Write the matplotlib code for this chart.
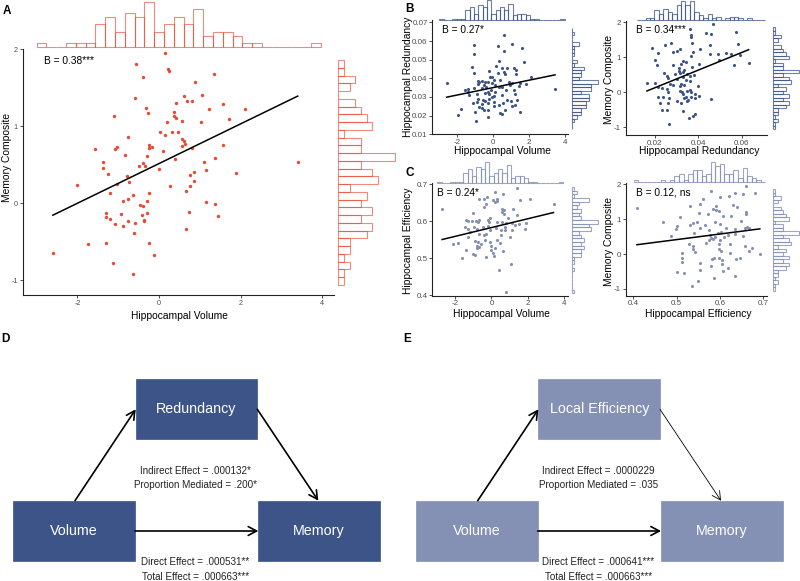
import matplotlib
matplotlib.use('Agg')
import matplotlib.pyplot as plt
import numpy as np
from matplotlib.patches import Rectangle
from matplotlib.ticker import FormatStrFormatter

plt.rcParams['font.family'] = ['Liberation Sans', 'DejaVu Sans']
plt.rcParams['axes.unicode_minus'] = False

# ---------------- data ----------------
a_volume = [0.155, -0.57, 0.21, 0.245, 1.34, -0.39, 0.89, 0.61, -0.59, 0.69,
            0.82, 0.42, 1.06, 1.56, -0.32, 1.23, 2.11, -0.28, 0.37, -1.09,
            0.36, 0.42, 1.71, 1.04, 0.57, 0.19, 0.03, 0.33, 0.46, 0.16,
            -0.76, 0.57, 0.62, 0.65, -0.24, 1.56, 0.56, -0.16, -0.24, 0.81,
            -1.57, -1.02, -1.07, 0.11, -0.84, -0.29, -1.36, 1.38, 0.40, -0.40,
            -0.35, 1.10, -0.50, -1.36, 0.01, 1.16, 1.88, -1.26, 0.87, 0.76,
            -0.78, -0.74, -1.03, -2.02, 0.27, 0.77, 0.87, 0.66, -0.24, -1.19,
            -0.64, -0.77, -0.87, -0.29, 1.16, -0.47, -0.38, 1.38, -1.30, 0.73,
            -0.30, -0.93, -0.41, 1.44, -1.30, -1.21, -0.37, -0.76, -0.36, -1.08,
            -0.59, -0.87, 0.67, -0.60, 3.40, -2.60, -1.75, -1.31, -0.24, -0.13,
            -1.12, -0.64]
a_memory = [1.95, 1.81, 1.745, 1.72, 1.68, 1.64, 1.57, 1.39, 1.37, 1.33,
            1.33, 1.30, 1.41, 1.29, 1.24, 1.22, 1.22, 1.17, 1.18, 1.13,
            1.13, 1.11, 1.09, 1.06, 1.07, 1.05, 0.92, 0.92, 0.92, 0.89,
            0.86, 0.83, 0.81, 0.77, 0.75, 0.75, 0.74, 0.73, 0.72, 0.72,
            0.71, 0.73, 0.70, 0.68, 0.63, 0.61, 0.54, 0.59, 0.58, 0.52,
            0.49, 0.53, 0.48, 0.46, 0.44, 0.43, 0.39, 0.38, 0.41, 0.37,
            0.35, 0.27, 0.25, 0.24, 0.23, 0.22, 0.29, 0.16, 0.14, 0.13,
            0.11, 0.06, 0.03, 0.03, 0.02, -0.02, -0.03, -0.01, -0.13, -0.11,
            -0.12, -0.14, -0.15, -0.16, -0.18, -0.20, -0.22, -0.23, -0.23, -0.27,
            -0.26, -0.29, -0.33, -0.39, 0.54, -0.64, -0.53, -0.52, -0.52, -0.67,
            -0.77, -0.92]

bl_volume = [0.60, -1.09, 0.24, 1.06, 0.60, 1.58, -1.06, 0.34, 1.71, -1.17,
             0.17, 0.48, 0.78, 1.15, 1.27, -0.25, 0.24, -1.06, 0.65, -0.19,
             2.12, -0.88, -0.61, 0.06, 0.36, -2.60, -0.31, -0.09, -0.84, -0.54,
             0.11, 0.86, 1.02, 1.47, 1.45, 0.95, 0.50, 0.30, -0.38, -0.64,
             -1.09, 1.80, -1.41, -1.58, -0.15, 1.13, -0.29, 0.09, -0.44, 3.44,
             0.72, -1.35, -0.89, -0.22, 0.46, 1.19, 0.04, -0.84, -0.22, -0.57,
             -0.44, 0.06, 0.76, -0.89, -0.61, 0.52, 1.30, -1.14, -0.28, 0.30,
             1.04, 0.04, -0.78, -0.65, 1.19, -1.82, -0.54, -0.31, 0.67, -1.02,
             0.39, 0.50, 1.49, -1.99, -0.29, -0.98, 1.00, -0.09, -0.46, -0.78,
             -1.41, -0.09, 0.61, 1.24]
bl_redundancy = [0.0632, 0.0580, 0.0575, 0.0584, 0.0546, 0.0561, 0.0529, 0.0493, 0.0486, 0.0459,
                 0.0468, 0.0455, 0.0454, 0.0455, 0.0445, 0.0439, 0.0427, 0.0429, 0.0423, 0.0409,
                 0.0409, 0.0387, 0.0387, 0.0391, 0.0391, 0.0375, 0.0379, 0.0375, 0.0370, 0.0366,
                 0.0366, 0.0379, 0.0375, 0.0375, 0.0361, 0.0366, 0.0355, 0.0352, 0.0353, 0.0350,
                 0.0350, 0.0371, 0.0343, 0.0336, 0.0337, 0.0337, 0.0327, 0.0325, 0.0320, 0.0341,
                 0.0336, 0.0311, 0.0313, 0.0313, 0.0311, 0.0313, 0.0305, 0.0288, 0.0288, 0.0284,
                 0.0279, 0.0275, 0.0282, 0.0270, 0.0264, 0.0268, 0.0284, 0.0268, 0.0266, 0.0255,
                 0.0252, 0.0252, 0.0248, 0.0241, 0.0255, 0.0236, 0.0230, 0.0229, 0.0230, 0.0220,
                 0.0213, 0.0209, 0.0220, 0.0202, 0.0191, 0.0170, 0.0277, 0.0405, 0.0379, 0.0382,
                 0.0327, 0.0302, 0.0432, 0.0423]

br_redundancy = [0.0466, 0.0363, 0.0435, 0.0460, 0.0575, 0.0365, 0.0366, 0.0583, 0.0275, 0.0248,
                 0.0369, 0.0454, 0.0186, 0.0317, 0.0303, 0.0282, 0.0408, 0.0212, 0.0374, 0.0452,
                 0.0491, 0.0528, 0.0552, 0.0594, 0.0366, 0.0632, 0.0202, 0.0328, 0.0345, 0.0494,
                 0.0208, 0.0282, 0.0322, 0.0403, 0.0563, 0.0309, 0.0371, 0.0335, 0.0243, 0.0312,
                 0.0317, 0.0328, 0.0294, 0.0348, 0.0362, 0.0382, 0.0331, 0.0302, 0.0258, 0.0342,
                 0.0363, 0.0163, 0.0198, 0.0271, 0.0322, 0.0212, 0.0234, 0.0254, 0.0283, 0.0317,
                 0.0334, 0.0397, 0.0258, 0.0315, 0.0325, 0.0348, 0.0360, 0.0366, 0.0383, 0.0329,
                 0.0212, 0.0235, 0.0345, 0.0366, 0.0383, 0.0263, 0.0332, 0.0460, 0.0300, 0.0346,
                 0.0225, 0.0260, 0.0352, 0.0322, 0.0231, 0.0254, 0.0328, 0.0383, 0.0375, 0.0355,
                 0.0265, 0.0254, 0.0402]
br_memory = [1.95, 1.81, 1.71, 1.68, 1.73, 1.65, 1.57, 1.38, 1.41, 1.35,
             1.40, 1.35, 1.26, 1.23, 1.18, 1.16, 1.23, 1.13, 1.16, 1.11,
             1.11, 1.13, 1.10, 1.06, 1.05, 0.85, 0.93, 0.90, 0.87, 0.92,
             0.77, 0.77, 0.81, 0.80, 0.78, 0.70, 0.73, 0.64, 0.56, 0.60,
             0.56, 0.58, 0.52, 0.53, 0.47, 0.50, 0.43, 0.39, 0.40, 0.35,
             0.33, 0.28, 0.26, 0.23, 0.24, 0.14, 0.12, 0.10, 0.20, 0.19,
             0.20, 0.18, 0.01, 0.05, 0.02, 0.05, 0.07, 0.00, -0.05, -0.06,
             -0.13, -0.14, -0.12, -0.12, -0.15, -0.17, -0.17, -0.19, -0.26, -0.26,
             -0.30, -0.30, -0.22, -0.31, -0.50, -0.50, -0.52, -0.63, -0.67, -0.72,
             -0.90, 0.47, -0.10]

cl_volume = [1.39, -2.74, 0.17, 0.63, -0.24, -0.39, 0.28, 0.11, 0.33, 0.17,
             -0.72, 1.59, 2.15, 3.44, -0.33, -0.41, 0.57, 0.69, 0.61, 1.17,
             -1.00, -1.41, -1.33, -1.07, -0.87, -0.67, -0.76, -0.22, -0.13, -0.06,
             0.70, 0.94, 1.39, 0.33, 0.56, 0.81, 1.15, 1.52, 1.30, 1.91,
             -1.48, -1.30, -0.96, -0.81, -0.46, -0.22, 0.24, 0.52, 0.76, -0.06,
             1.13, 1.85, -1.20, -0.69, -0.43, -0.28, 0.52, 1.00, -1.30, -0.89,
             -0.74, -1.85, -2.11, -0.35, -0.07, 0.28, 0.48, -0.59, -0.81, -0.70,
             0.00, 0.17, -1.39, 0.65, -1.00, 0.07, -0.93, -0.31, 0.15, -1.65,
             -0.04, 1.07, 0.41, 0.80, -0.78, 0.74]
cl_efficiency = [0.690, 0.633, 0.678, 0.674, 0.664, 0.660, 0.660, 0.657, 0.654, 0.652,
                 0.660, 0.657, 0.660, 0.647, 0.645, 0.639, 0.632, 0.630, 0.625, 0.632,
                 0.621, 0.604, 0.601, 0.600, 0.601, 0.602, 0.599, 0.603, 0.598, 0.608,
                 0.619, 0.608, 0.617, 0.597, 0.599, 0.594, 0.596, 0.593, 0.589, 0.594,
                 0.584, 0.580, 0.585, 0.580, 0.585, 0.586, 0.581, 0.576, 0.575, 0.576,
                 0.577, 0.580, 0.572, 0.564, 0.563, 0.566, 0.563, 0.556, 0.556, 0.547,
                 0.545, 0.542, 0.538, 0.550, 0.544, 0.550, 0.542, 0.538, 0.533, 0.530,
                 0.533, 0.527, 0.523, 0.520, 0.512, 0.514, 0.509, 0.504, 0.505, 0.500,
                 0.523, 0.485, 0.468, 0.409, 0.527, 0.585]

cr_efficiency = [0.4085, 0.659, 0.580, 0.681, 0.653, 0.620, 0.599, 0.635, 0.560, 0.555,
                 0.531, 0.590, 0.630, 0.583, 0.592, 0.598, 0.639, 0.661, 0.551, 0.508,
                 0.572, 0.608, 0.625, 0.661, 0.468, 0.537, 0.546, 0.588, 0.648, 0.502,
                 0.530, 0.566, 0.601, 0.663, 0.498, 0.554, 0.574, 0.615, 0.635, 0.658,
                 0.667, 0.488, 0.541, 0.576, 0.595, 0.603, 0.618, 0.635, 0.580, 0.585,
                 0.575, 0.589, 0.601, 0.610, 0.653, 0.529, 0.537, 0.568, 0.597, 0.624,
                 0.658, 0.538, 0.598, 0.602, 0.675, 0.512, 0.542, 0.624, 0.692, 0.512,
                 0.582, 0.587, 0.598, 0.605, 0.638, 0.647, 0.512, 0.554, 0.605, 0.580,
                 0.618, 0.502, 0.518, 0.555, 0.606, 0.634, 0.586, 0.549, 0.535, 0.666]
cr_memory = [1.33, 1.96, 1.81, 1.75, 1.72, 1.67, 1.64, 1.74, 1.58, 1.43,
             1.38, 1.38, 1.42, 1.30, 1.27, 1.24, 1.34, 1.21, 1.19, 1.07,
             1.15, 1.10, 1.09, 1.15, 0.93, 0.90, 0.93, 0.92, 0.95, 0.80,
             0.83, 0.83, 0.86, 0.78, 0.72, 0.76, 0.69, 0.74, 0.73, 0.75,
             0.74, 0.53, 0.61, 0.56, 0.61, 0.64, 0.55, 0.57, 0.45, 0.42,
             0.40, 0.48, 0.40, 0.48, 0.51, 0.28, 0.23, 0.31, 0.30, 0.29,
             0.24, 0.15, 0.15, 0.09, 0.17, 0.04, 0.07, 0.03, -0.01, -0.12,
             -0.14, -0.12, -0.11, -0.17, -0.14, -0.11, -0.22, -0.25, -0.29, -0.34,
             -0.39, -0.52, -0.55, -0.47, -0.50, -0.64, -0.70, -0.77, -0.93, 0.10]

# marginal histogram counts (volume: left->right, memory: top->bottom)
volume_hist_counts = [1, 0, 0, 1, 1, 1, 6, 8, 4, 9, 8, 12, 4, 6, 8, 6, 10, 3, 4, 4, 3, 1, 1, 0, 0, 0, 0, 0, 1]
volume_hist_range = (-3.0, 3.97)
memory_hist_counts = [1, 1, 3, 2, 0, 3, 4, 5, 6, 1, 4, 4, 10, 4, 6, 7, 2, 5, 4, 6, 4, 6, 5, 2, 2, 1, 2, 1, 1]
memory_hist_range = (-1.058, 1.856)
redundancy_hist_range_y = (0.0128, 0.0668)
redundancy_hist_range_x = (0.01155, 0.0708)
efficiency_hist_range_y = (0.405, 0.692)
efficiency_hist_range_x = (0.4008, 0.7046)
n_bins = 29

b_texts = ['B = 0.38***', 'B = 0.27*', 'B = 0.34***', 'B = 0.24*', 'B = 0.12, ns']

d_nodes = ['Volume', 'Redundancy', 'Memory']
d_stats = ['Indirect Effect = .000132*', 'Proportion Mediated = .200*',
           'Direct Effect = .000531**', 'Total Effect = .000663***']
e_nodes = ['Volume', 'Local Efficiency', 'Memory']
e_stats = ['Indirect Effect = .0000229', 'Proportion Mediated = .035',
           'Direct Effect = .000641***', 'Total Effect = .000663***']

RED = '#E64B35'
DBLUE = '#3C5488'
LBLUE = '#8491B4'
RED_H = (0.9, 0.3, 0.21, 0.65)
DBLUE_H = (0.235, 0.33, 0.53, 0.75)
LBLUE_H = (0.52, 0.57, 0.71, 0.8)

# ---------------- figure ----------------
W, H = 800, 581
fig = plt.figure(figsize=(8, 5.81), dpi=100)


def frect(l, t, r, b):
    return [l / W, 1 - b / H, (r - l) / W, (b - t) / H]


def scatter_panel(px, xlim, ylim, xs, ys, color, xticks, yticks, xfmt, yfmt,
                  btext, bpos, msize=5, tsize=5.8, tlen=2.5, tpad=0.8):
    ax = fig.add_axes(frect(*px))
    ax.patch.set_visible(False)
    xs = np.asarray(xs); ys = np.asarray(ys)
    ax.scatter(xs, ys, s=msize, color=color, linewidths=0, zorder=3, clip_on=False)
    slope, icpt = np.polyfit(xs, ys, 1)
    xx = np.array([xs.min(), xs.max()])
    ax.plot(xx, icpt + slope * xx, color='black', lw=1.1, zorder=4)
    ax.set_xlim(xlim)
    ax.set_ylim(ylim)
    ax.set_xticks(xticks)
    ax.set_yticks(yticks)
    if xfmt:
        ax.xaxis.set_major_formatter(FormatStrFormatter(xfmt))
    if yfmt:
        ax.yaxis.set_major_formatter(FormatStrFormatter(yfmt))
    for s in ['top', 'right']:
        ax.spines[s].set_visible(False)
    for s in ['left', 'bottom']:
        ax.spines[s].set_linewidth(0.8)
        ax.spines[s].set_color('#222222')
    ax.tick_params(labelsize=tsize, labelcolor='#4d4d4d', color='#333333',
                   length=tlen, width=0.6, pad=tpad)
    ax.text(bpos[0], bpos[1], btext, transform=ax.transAxes, fontsize=7.3,
            va='center', ha='left')
    return ax


def top_hist(px, xlim, rng, counts, ymax, color):
    ax = fig.add_axes(frect(*px))
    edges = np.linspace(rng[0], rng[1], len(counts) + 1)
    ax.bar(edges[:-1], counts, width=np.diff(edges), align='edge', fill=False,
           edgecolor=color, lw=0.8, clip_on=False)
    ax.set_xlim(xlim)
    ax.set_ylim(0, ymax)
    ax.axis('off')
    return ax


def right_hist(px, ylim, rng, counts_bottom_up, xmax, color):
    ax = fig.add_axes(frect(*px))
    edges = np.linspace(rng[0], rng[1], len(counts_bottom_up) + 1)
    ax.barh(edges[:-1], counts_bottom_up, height=np.diff(edges), align='edge',
            fill=False, edgecolor=color, lw=0.8, clip_on=False)
    ax.set_ylim(ylim)
    ax.set_xlim(0, xmax)
    ax.axis('off')
    return ax


mem_up = memory_hist_counts[::-1]

# Panel A
A_xlim, A_ylim = (-3.34, 4.29), (-1.188, 2.0)
scatter_panel((22.7, 49, 334, 295), A_xlim, A_ylim, a_volume, a_memory, RED,
              [-2, 0, 2, 4], [-1, 0, 1, 2], None, None, b_texts[0], (0.068, 0.951),
              msize=6, tsize=5.2, tlen=2, tpad=1.5)
top_hist((22.7, 0, 334, 46.7), A_xlim, volume_hist_range, volume_hist_counts, 12.52, RED_H)
right_hist((338.3, 49, 400, 295), A_ylim, memory_hist_range, mem_up, 10.88, RED_H)

# Panel B left
BL_L, BL_R = 432.3, 568.3
BL_xlim, BL_ylim = (-3.40, 4.18), (0.0099, 0.0712)
scatter_panel((BL_L, 20.2, BL_R, 134.3), BL_xlim, BL_ylim, bl_volume, bl_redundancy, DBLUE,
              [-2, 0, 2, 4], [0.01, 0.02, 0.03, 0.04, 0.05, 0.06, 0.07], None, '%.2f',
              b_texts[1], (0.07, 0.915))
top_hist((BL_L, 0, BL_R, 20.2), BL_xlim, volume_hist_range, volume_hist_counts, 12.1, DBLUE_H)
c_red_y, _ = np.histogram(bl_redundancy, bins=n_bins, range=redundancy_hist_range_y)
right_hist((571.7, 20.2, 600, 134.3), BL_ylim, redundancy_hist_range_y, c_red_y,
           c_red_y.max() * 28.3 / 26.6, DBLUE_H)

# Panel B right
BR_xlim, BR_ylim = (0.00648, 0.0717), (-1.22, 2.05)
scatter_panel((625.7, 20.7, 767, 135), BR_xlim, BR_ylim, br_redundancy, br_memory, DBLUE,
              [0.02, 0.04, 0.06], [-1, 0, 1, 2], '%.2f', None, b_texts[2], (0.073, 0.919))
c_red_x, _ = np.histogram(br_redundancy, bins=n_bins, range=redundancy_hist_range_x)
top_hist((625.7, 0, 767, 20.0), BR_xlim, redundancy_hist_range_x, c_red_x,
         c_red_x.max() * 20.0 / 19.5, DBLUE_H)
right_hist((772.7, 20.7, 800, 135), BR_ylim, memory_hist_range, mem_up,
           10 * 27.3 / 26.6, DBLUE_H)

# Panel C left
CL_L, CL_R = 432.0, 568.3
CL_xlim, CL_ylim = (-3.30, 4.26), (0.399, 0.702)
scatter_panel((CL_L, 183.3, CL_R, 295.7), CL_xlim, CL_ylim, cl_volume, cl_efficiency, LBLUE,
              [-2, 0, 2, 4], [0.4, 0.5, 0.6, 0.7], None, '%.1f', b_texts[3], (0.035, 0.911))
top_hist((CL_L, 160, CL_R, 183.3), CL_xlim, volume_hist_range, volume_hist_counts,
         12 * 23.3 / 21.6, LBLUE_H)
c_eff_y, _ = np.histogram(cl_efficiency, bins=n_bins, range=efficiency_hist_range_y)
right_hist((571.7, 183.3, 600, 295.7), CL_ylim, efficiency_hist_range_y, c_eff_y,
           c_eff_y.max() * 28.3 / 26.6, LBLUE_H)

# Panel C right
CR_xlim, CR_ylim = (0.3825, 0.7086), (-1.195, 2.03)
scatter_panel((625.7, 183.3, 767, 295.7), CR_xlim, CR_ylim, cr_efficiency, cr_memory, LBLUE,
              [0.4, 0.5, 0.6, 0.7], [-1, 0, 1, 2], '%.1f', None, b_texts[4], (0.073, 0.92))
c_eff_x, _ = np.histogram(cr_efficiency, bins=n_bins, range=efficiency_hist_range_x)
top_hist((625.7, 160, 767, 182), CR_xlim, efficiency_hist_range_x, c_eff_x,
         c_eff_x.max() * 22 / 20.5, LBLUE_H)
right_hist((772.7, 183.3, 800, 295.7), CR_ylim, memory_hist_range, mem_up,
           10 * 27.3 / 26.6, LBLUE_H)

# ---------------- overlay (labels + diagrams) ----------------
ov = fig.add_axes([0, 0, 1, 1])
ov.set_xlim(0, W)
ov.set_ylim(H, 0)
ov.axis('off')
ov.patch.set_visible(False)

# panel letters
for lab, (x, y) in zip('ABCDE', [(3, 11), (405, 8.5), (405, 173), (1, 339), (403, 339)]):
    ov.text(x, y, lab, fontsize=8.5, fontweight='bold', ha='left', va='center')

# axis labels
LFS = 7.4
ov.text(179, 316, 'Hippocampal Volume', fontsize=LFS, ha='center', va='center')
ov.text(7.5, 158, 'Memory Composite', fontsize=LFS, ha='center', va='center', rotation=90)
ov.text(502, 151, 'Hippocampal Volume', fontsize=LFS, ha='center', va='center')
ov.text(408, 76.5, 'Hippocampal Redundancy', fontsize=LFS, ha='center', va='center', rotation=90)
ov.text(699, 151.5, 'Hippocampal Redundancy', fontsize=LFS, ha='center', va='center')
ov.text(609, 80, 'Memory Composite', fontsize=LFS, ha='center', va='center', rotation=90)
ov.text(501, 314, 'Hippocampal Volume', fontsize=LFS, ha='center', va='center')
ov.text(408, 241, 'Hippocampal Efficiency', fontsize=LFS, ha='center', va='center', rotation=90)
ov.text(698.5, 314, 'Hippocampal Efficiency', fontsize=LFS, ha='center', va='center')
ov.text(609, 241.5, 'Memory Composite', fontsize=LFS, ha='center', va='center', rotation=90)


def diagram(dx, nodes, stats, color, thin_second):
    # boxes: volume (left), mediator (top), memory (right)
    boxes = [(13.3 + dx, 501, 121.7, 60), (135.7 + dx, 379.3, 121.7, 60),
             (258.3 + dx, 501, 121.7, 60)]
    for (x, y, w, h), name in zip(boxes, nodes):
        ov.add_patch(Rectangle((x, y), w, h, facecolor=color, edgecolor=color, lw=0.5))
        ov.text(x + w / 2, y + h / 2, name, color='white', fontsize=10.3,
                ha='center', va='center')
    arrows = [((75 + dx, 500.7), (135.7 + dx, 409.3), 1.2),
              ((257.3 + dx, 409.3), (318.3 + dx, 500.7), 0.6 if thin_second else 1.2),
              ((135 + dx, 531), (258.3 + dx, 531), 1.2)]
    for start, end, lw in arrows:
        ov.annotate('', xy=end, xytext=start,
                    arrowprops=dict(arrowstyle='->,head_length=0.6,head_width=0.32',
                                    lw=lw, color='black', shrinkA=0, shrinkB=0))
    cx = 195.5 + dx
    for s, y in zip(stats, [471, 485.3, 561.7, 576.7]):
        ov.text(cx, y, s, fontsize=7.1, ha='center', va='center', color='#222222')


diagram(0, d_nodes, d_stats, DBLUE, False)
diagram(402.7, e_nodes, e_stats, LBLUE, True)

fig.savefig('out.png', dpi=100)
